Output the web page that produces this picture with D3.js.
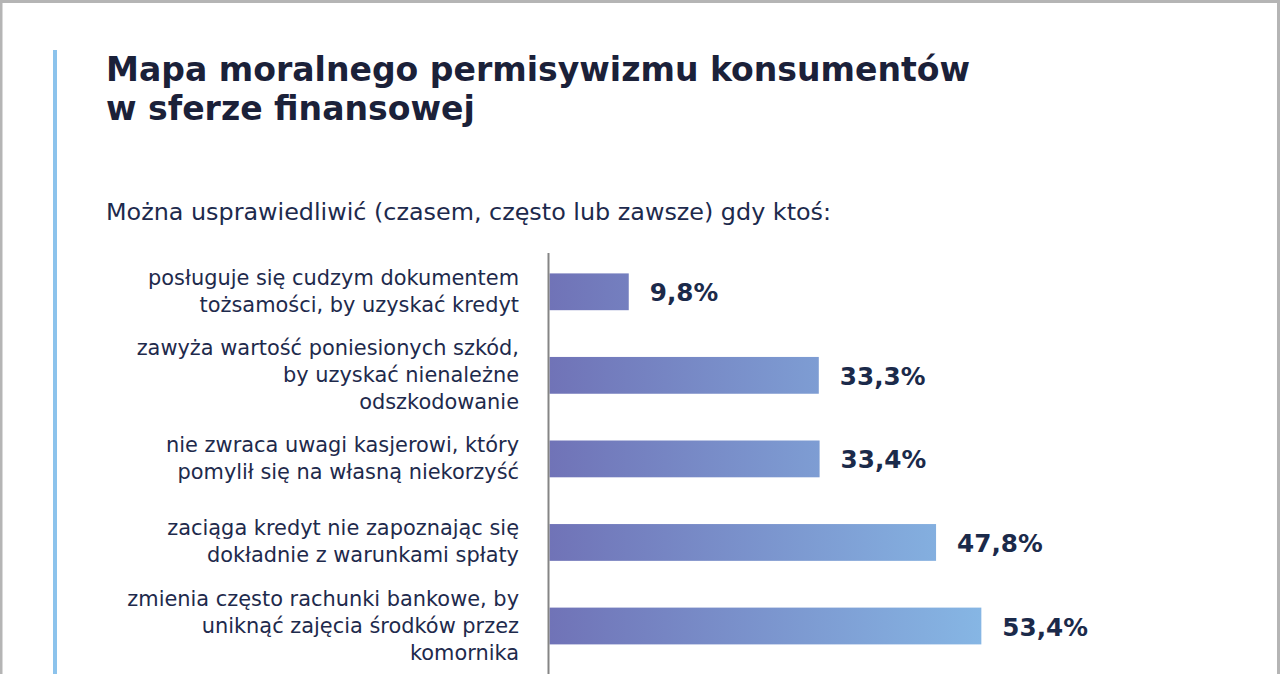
<!DOCTYPE html>
<html><head><meta charset="utf-8">
<script src="https://cdn.jsdelivr.net/npm/d3@7"></script>
<style>html,body{margin:0;padding:0;background:#fff;overflow:hidden}</style>
</head><body><svg id="c" width="1280" height="674"></svg>
<script>
const categories = [
  ["posługuje się cudzym dokumentem", "tożsamości, by uzyskać kredyt"],
  ["zawyża wartość poniesionych szkód,", "by uzyskać nienależne", "odszkodowanie"],
  ["nie zwraca uwagi kasjerowi, który", "pomylił się na własną niekorzyść"],
  ["zaciąga kredyt nie zapoznając się", "dokładnie z warunkami spłaty"],
  ["zmienia często rachunki bankowe, by", "uniknąć zajęcia środków przez", "komornika"]
];
const values = [9.8, 33.3, 33.4, 47.8, 53.4];
const valueLabels = ["9,8%", "33,3%", "33,4%", "47,8%", "53,4%"];
const titleLines = ["Mapa moralnego permisywizmu konsumentów", "w sferze finansowej"];
const subtitle = "Można usprawiedliwić (czasem, często lub zawsze) gdy ktoś:";

const svg = d3.select("#c");
const FONT = "'DejaVu Sans', sans-serif";
svg.append("rect").attr("width",1280).attr("height",674).attr("fill","#fff");
// frame
svg.append("rect").attr("x",0).attr("y",0).attr("width",1280).attr("height",3).attr("fill","#b5b5b5");
svg.append("rect").attr("x",0).attr("y",0).attr("width",2.5).attr("height",674).attr("fill","#b5b5b5");
svg.append("rect").attr("x",1277).attr("y",0).attr("width",3).attr("height",674).attr("fill","#b5b5b5");
// accent line
svg.append("rect").attr("x",53).attr("y",50).attr("width",4).attr("height",624).attr("fill","#8cc3ec");

const title = svg.append("text").attr("font-family",FONT).attr("font-weight",700)
  .attr("font-size",33.1).attr("fill","#1b2139");
titleLines.forEach((t,i)=>title.append("tspan").attr("x",106).attr("y",81+i*39).text(t));
svg.append("text").attr("x",106).attr("y",220).attr("font-family",FONT).attr("font-size",23.85)
  .attr("fill","#1d2a4d").text(subtitle);

const x = d3.scaleLinear().domain([0, 60]).range([549.5, 549.5 + 60*8.087]);
const y = d3.scalePoint().domain(d3.range(values.length)).range([291.8, 626]);
const barH = 36.8;

const defs = svg.append("defs");
const grad = defs.append("linearGradient").attr("id","g").attr("gradientUnits","userSpaceOnUse")
  .attr("x1",x(0)).attr("x2",x(53.4)).attr("y1",0).attr("y2",0);
grad.append("stop").attr("offset","0%").attr("stop-color","#7073b7");
grad.append("stop").attr("offset","100%").attr("stop-color","#86b6e4");

svg.selectAll("rect.bar").data(values).join("rect").attr("class","bar")
  .attr("x",x(0)).attr("y",(d,i)=>y(i)-barH/2).attr("width",d=>x(d)-x(0)).attr("height",barH)
  .attr("fill","url(#g)");

svg.append("line").attr("x1",548.5).attr("x2",548.5).attr("y1",253).attr("y2",674)
  .attr("stroke","#858585").attr("stroke-width",2);

svg.selectAll("text.val").data(values).join("text").attr("class","val")
  .attr("x",d=>x(d)+21).attr("y",(d,i)=>y(i)+9.5)
  .attr("font-family",FONT).attr("font-weight",700).attr("font-size",24.7).attr("fill","#1b2a4a")
  .text((d,i)=>valueLabels[i]);

const lab = svg.selectAll("text.lab").data(categories).join("text").attr("class","lab")
  .attr("font-family",FONT).attr("font-size",20.9).attr("fill","#1e2a4c").attr("text-anchor","end");
lab.each(function(lines,i){
  const n = lines.length;
  d3.select(this).selectAll("tspan").data(lines).join("tspan")
    .attr("x",519).attr("y",(l,j)=>y(i)+(j-(n-1)/2)*27+6.5).text(l=>l);
});
</script></body></html>
